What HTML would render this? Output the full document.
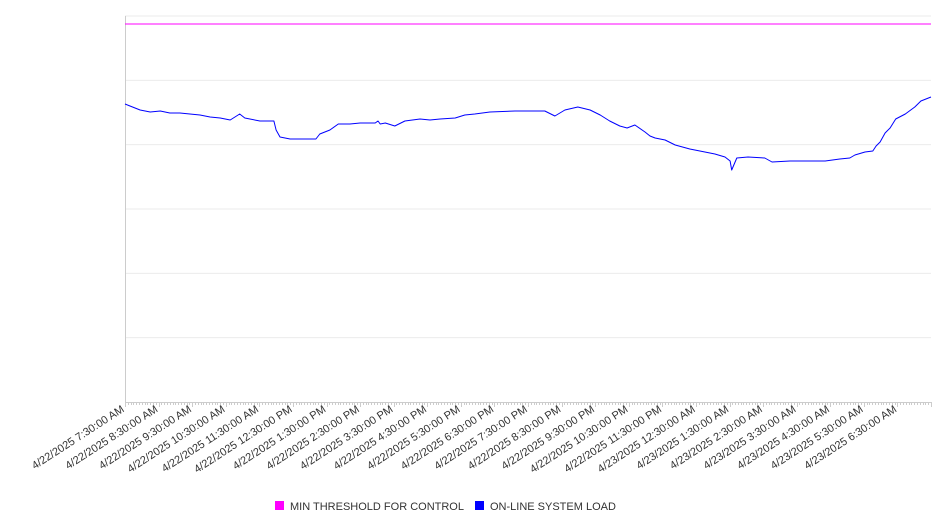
<!DOCTYPE html>
<html><head><meta charset="utf-8"><style>
body{margin:0;background:#fff;}
svg{display:block;font-family:"Liberation Sans","DejaVu Sans",sans-serif;}
</style></head><body>
<svg id="chart" width="946" height="526" viewBox="0 0 946 526">
<g id="grid"></g>
<g id="axes"></g>
<g id="series"></g>
<g id="xlabels"></g>
<g font-size="11" fill="#333">
 <g>
  <rect x="275" y="501" width="9" height="9" fill="#ff00ff"/>
  <text x="290" y="510">MIN THRESHOLD FOR CONTROL</text>
 </g>
 <g>
  <rect x="475" y="501" width="9" height="9" fill="#0000ff"/>
  <text x="490" y="510">ON-LINE SYSTEM LOAD</text>
 </g>
</g>
</svg>
<script>
// minutes since 4/22/2025 7:30 AM
const loadMinutes=[0,9,27,45,63,80,98,116,134,152,170,188,205,214,241,266,270,277,295,341,348,366,381,402,420,447,452,456,465,482,500,527,545,563,590,607,625,652,697,750,768,786,809,831,849,866,884,897,911,929,938,947,965,983,1009,1036,1054,1072,1081,1084,1093,1113,1143,1156,1188,1251,1277,1295,1304,1322,1336,1342,1349,1358,1367,1377,1394,1411,1422,1440];
const loadValues=[298,296,292,290,291,289,289,288,287,285,284,282,288,284,281,281,272,265,263,263,268,272,278,278,279,279,281,278,279,276,281,283,282,283,284,287,288,290,291,291,286,292,295,292,287,281,276,274,277,270,266,264,262,257,253,250,248,245,241,232,244,245,244,240,241,241,243,244,247,250,251,256,260,269,274,283,288,295,301,305];
const thresholdValue=378;
const tickLabels=["4/22/2025 7:30:00 AM","4/22/2025 8:30:00 AM","4/22/2025 9:30:00 AM","4/22/2025 10:30:00 AM","4/22/2025 11:30:00 AM","4/22/2025 12:30:00 PM","4/22/2025 1:30:00 PM","4/22/2025 2:30:00 PM","4/22/2025 3:30:00 PM","4/22/2025 4:30:00 PM","4/22/2025 5:30:00 PM","4/22/2025 6:30:00 PM","4/22/2025 7:30:00 PM","4/22/2025 8:30:00 PM","4/22/2025 9:30:00 PM","4/22/2025 10:30:00 PM","4/22/2025 11:30:00 PM","4/23/2025 12:30:00 AM","4/23/2025 1:30:00 AM","4/23/2025 2:30:00 AM","4/23/2025 3:30:00 AM","4/23/2025 4:30:00 AM","4/23/2025 5:30:00 AM","4/23/2025 6:30:00 AM"];
const yMax=386, xMax=1440;
const L=125,R=931,T=16,B=402;
const xs=m=>L+(m/xMax)*(R-L);
const ys=v=>B-(v/yMax)*(B-T);
const NS="http://www.w3.org/2000/svg";
function mk(tag,attrs,parent){const e=document.createElementNS(NS,tag);for(const k in attrs)e.setAttribute(k,attrs[k]);parent.appendChild(e);return e;}
const grid=document.getElementById('grid');
for(let i=1;i<=6;i++){
  const y=ys(yMax*i/6);
  const g=mk('line',{x1:L,x2:R,y1:y,y2:y,stroke:'#ebebeb','stroke-width':1},grid);
  
  
}
const axes=document.getElementById('axes');
const ya=mk('line',{x1:L+0.5,x2:L+0.5,y1:T,y2:B,stroke:'#ccc'},axes);


const xa=mk('line',{x1:L,x2:R,y1:B+0.5,y2:B+0.5,stroke:'#ccc'},axes);


for(let m=0;m<=xMax;m+=5){
  const x=Math.round(xs(m))+0.5;
  const t=mk('line',{x1:x,x2:x,y1:B,y2:B+(m%60===0?5:3),stroke:'#ccc'},axes);
  
  
}
const xl=document.getElementById('xlabels');
tickLabels.forEach((s,i)=>{
  const x=xs(i*60), y=B+9;
  const t=mk('text',{x:x,y:y,'text-anchor':'end','font-size':11,fill:'#333',transform:`rotate(-33 ${x} ${y})`},xl);
  t.textContent=s;
  
  
});
const ser=document.getElementById('series');
const th=mk('line',{x1:L,x2:R,y1:ys(thresholdValue),y2:ys(thresholdValue),stroke:'#ff00ff','stroke-width':1},ser);


const d=loadMinutes.map((m,i)=>(i?'L':'M')+xs(m).toFixed(1)+','+ys(loadValues[i]).toFixed(1)).join('');
const p=mk('path',{d:d,fill:'none',stroke:'#0000ff','stroke-width':1,'stroke-linejoin':'round'},ser);


</script>
</body></html>
